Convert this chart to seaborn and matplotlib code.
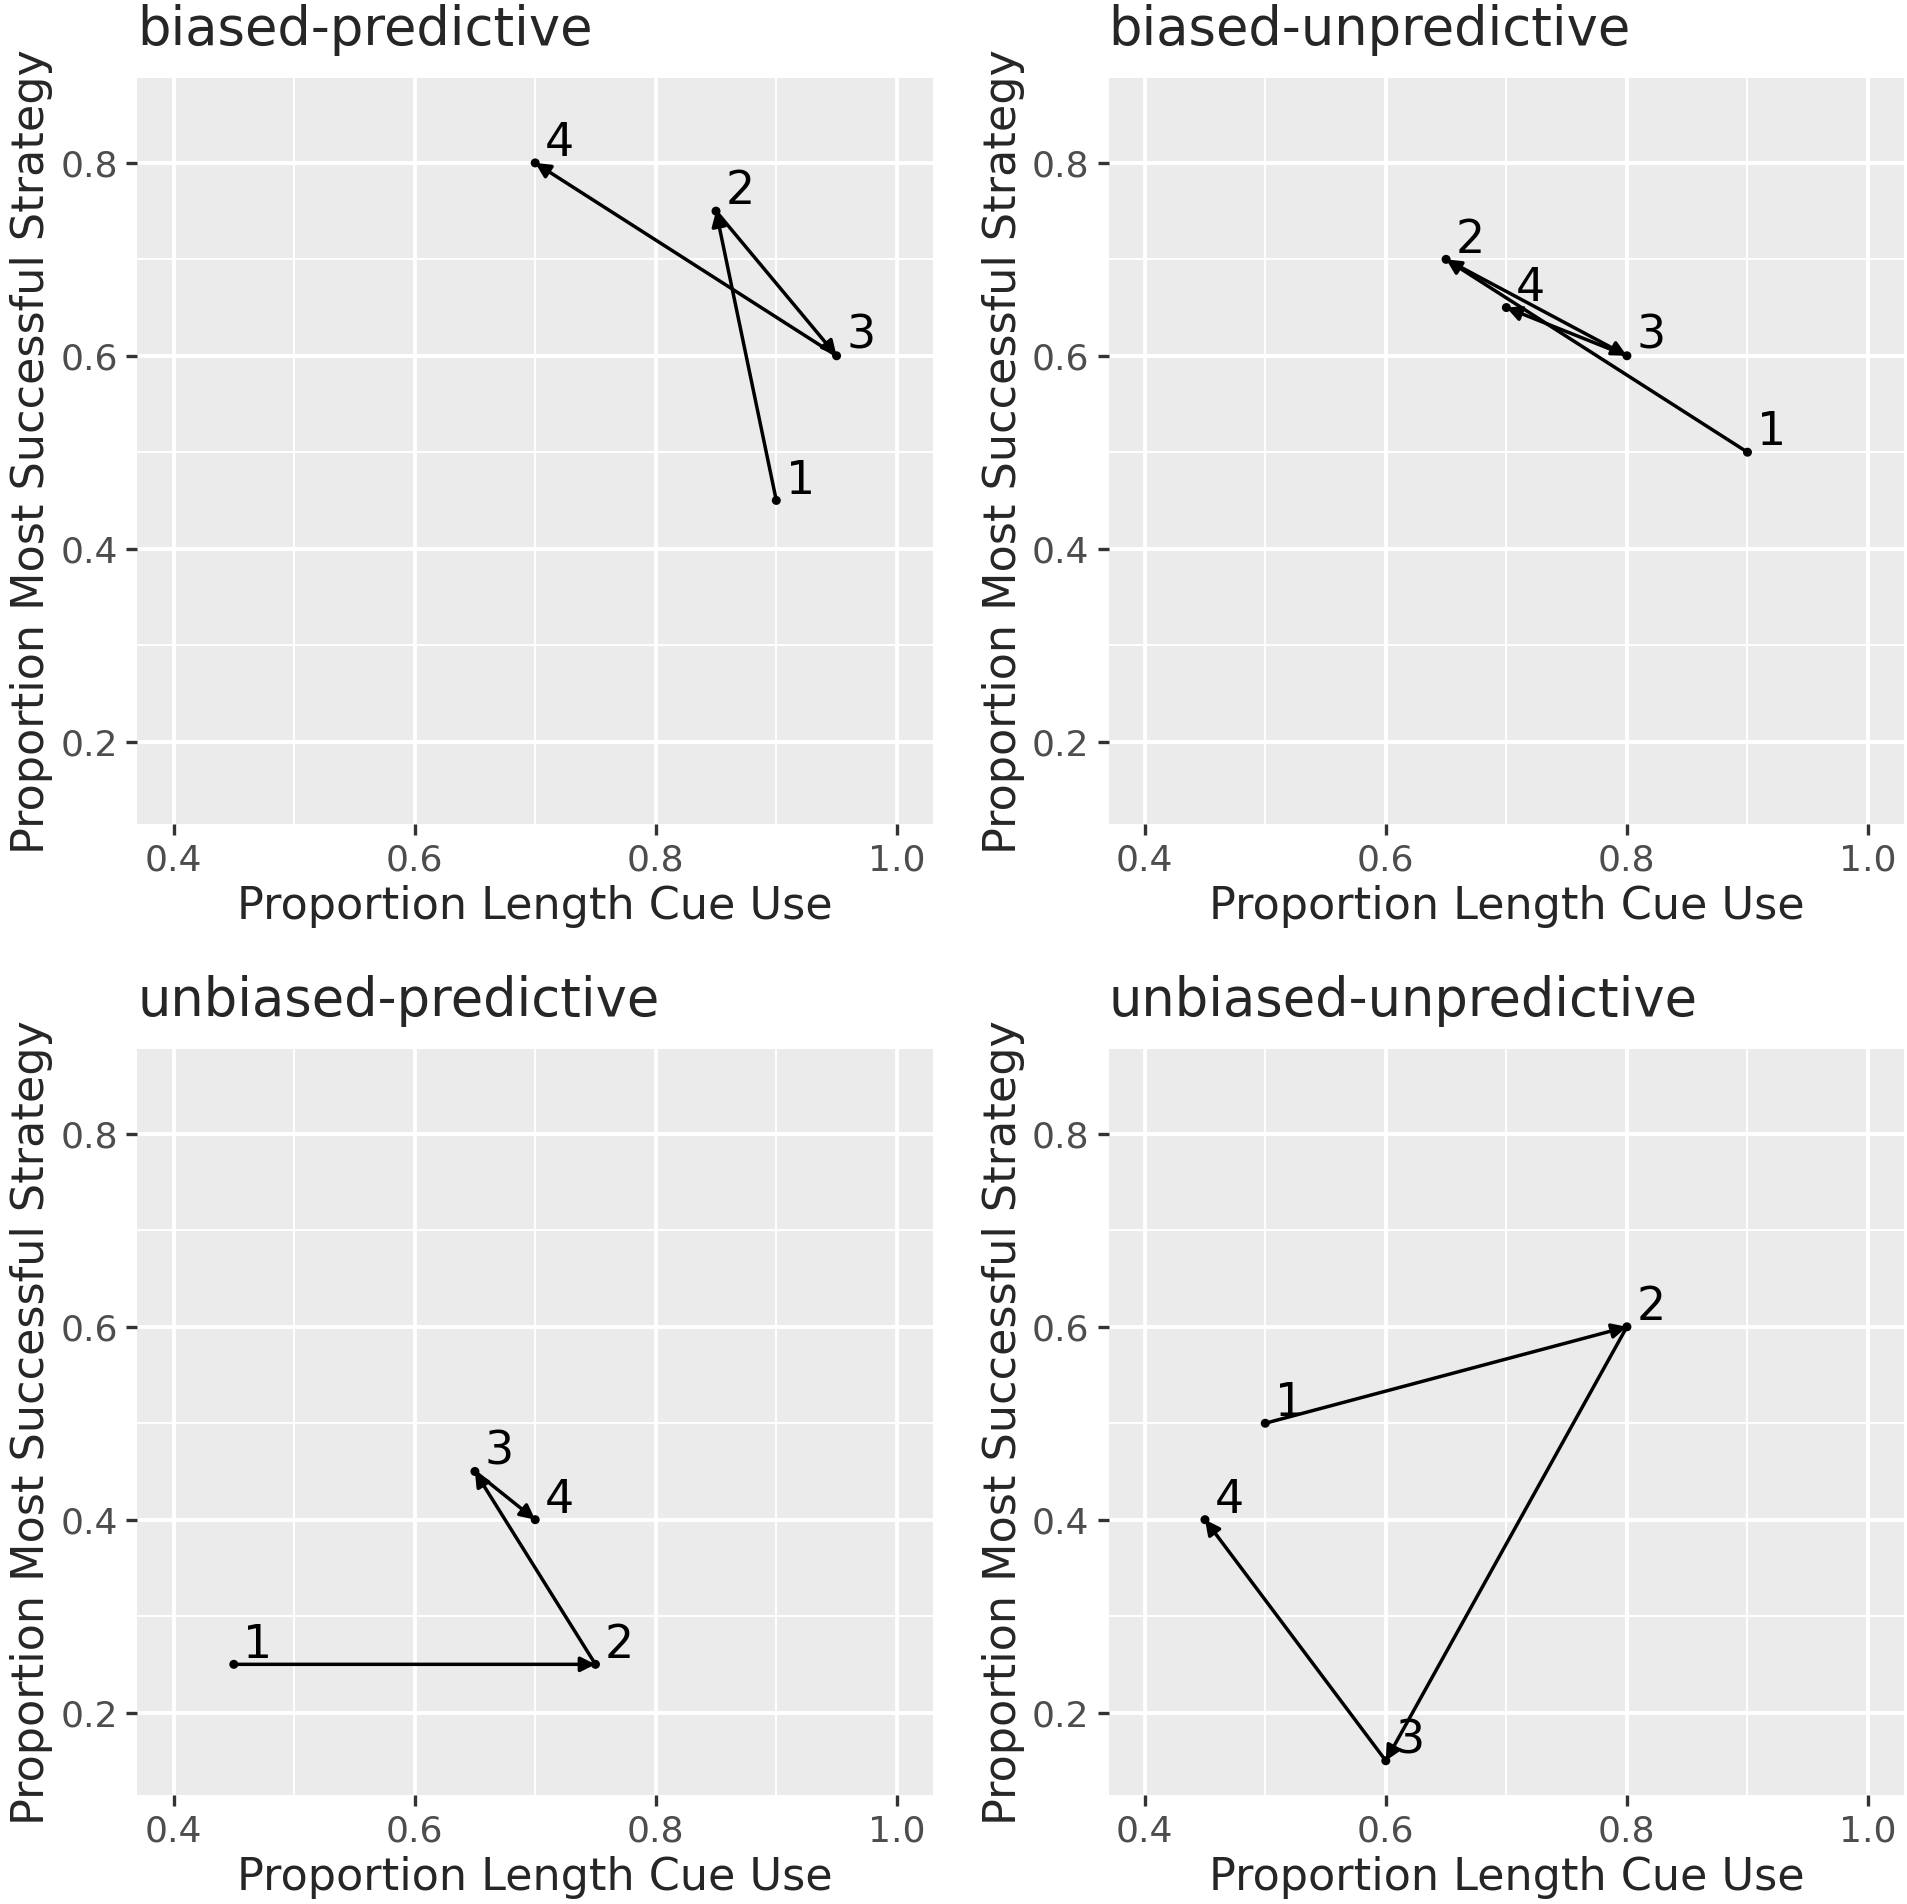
import numpy as np
import pandas as pd
import matplotlib
matplotlib.use("Agg")
import matplotlib.pyplot as plt
import seaborn as sns

# data (block 1..4 per condition)
conditions = ["biased-predictive", "biased-unpredictive",
              "unbiased-predictive", "unbiased-unpredictive"]
blocks = [1, 2, 3, 4]
cue_use_bp = [0.90, 0.85, 0.95, 0.70]
success_bp = [0.45, 0.75, 0.60, 0.80]
cue_use_bu = [0.90, 0.65, 0.80, 0.70]
success_bu = [0.50, 0.70, 0.60, 0.65]
cue_use_up = [0.45, 0.75, 0.65, 0.70]
success_up = [0.25, 0.25, 0.45, 0.40]
cue_use_uu = [0.50, 0.80, 0.60, 0.45]
success_uu = [0.50, 0.60, 0.15, 0.40]

x_ticks = [0.4, 0.6, 0.8, 1.0]
y_ticks = [0.2, 0.4, 0.6, 0.8]

frames = []
for cond, xs, ys in zip(conditions,
                        [cue_use_bp, cue_use_bu, cue_use_up, cue_use_uu],
                        [success_bp, success_bu, success_up, success_uu]):
    frames.append(pd.DataFrame({"condition": cond, "block": blocks,
                                "cue": xs, "success": ys}))
df = pd.concat(frames, ignore_index=True)

sns.set_theme(style="darkgrid", rc={
    "axes.facecolor": "#EBEBEB",
    "grid.color": "white",
    "axes.edgecolor": "#EBEBEB",
})
plt.rcParams["font.family"] = ["DejaVu Sans"]

fig = plt.figure(figsize=(19.08, 19.04), dpi=100)
lefts = [0.072, 0.581]
bottoms = [0.567, 0.057]
w, h = 0.417, 0.392

nudge = 0.02
for i, cond in enumerate(conditions):
    ax = fig.add_axes([lefts[i % 2], bottoms[i // 2], w, h])
    sub = df[df.condition == cond].reset_index(drop=True)
    sns.scatterplot(data=sub, x="cue", y="success", ax=ax, color="black",
                    s=42, edgecolor="none", zorder=3)
    # arrows from one block to the next
    for k in range(len(sub) - 1):
        ax.annotate("", xy=(sub.cue[k + 1], sub.success[k + 1]),
                    xytext=(sub.cue[k], sub.success[k]),
                    arrowprops=dict(arrowstyle="-|>", mutation_scale=22,
                                    lw=2.5, color="black",
                                    shrinkA=0, shrinkB=0), zorder=4)
    for k in range(len(sub)):
        ax.text(sub.cue[k] + nudge, sub.success[k] + nudge, str(sub.block[k]),
                fontsize=33, ha="center", va="center", color="black", zorder=5)

    ax.set_xlim(0.37, 1.03)
    ax.set_ylim(0.114, 0.888)
    ax.set_xticks(x_ticks)
    ax.set_yticks(y_ticks)
    ax.set_xticklabels([f"{t:.1f}" for t in x_ticks])
    ax.set_yticklabels([f"{t:.1f}" for t in y_ticks])
    ax.set_xticks([0.5, 0.7, 0.9], minor=True)
    ax.set_yticks([0.3, 0.5, 0.7], minor=True)
    ax.grid(which="major", color="white", lw=2.8)
    ax.grid(which="minor", color="white", lw=1.4)
    ax.tick_params(which="major", length=8, width=2.4, color="#333333",
                   labelsize=26, labelcolor="#4D4D4D", pad=6,
                   bottom=True, left=True)
    ax.tick_params(which="minor", length=0)
    for sp in ax.spines.values():
        sp.set_visible(False)
    ax.set_xlabel("Proportion Length Cue Use", fontsize=32, labelpad=5)
    ax.set_ylabel("Proportion Most Successful Strategy", fontsize=32, labelpad=5)
    ax.set_title(cond, fontsize=38, loc="left", pad=24)

fig.savefig("out.png", dpi=100, facecolor="white")
